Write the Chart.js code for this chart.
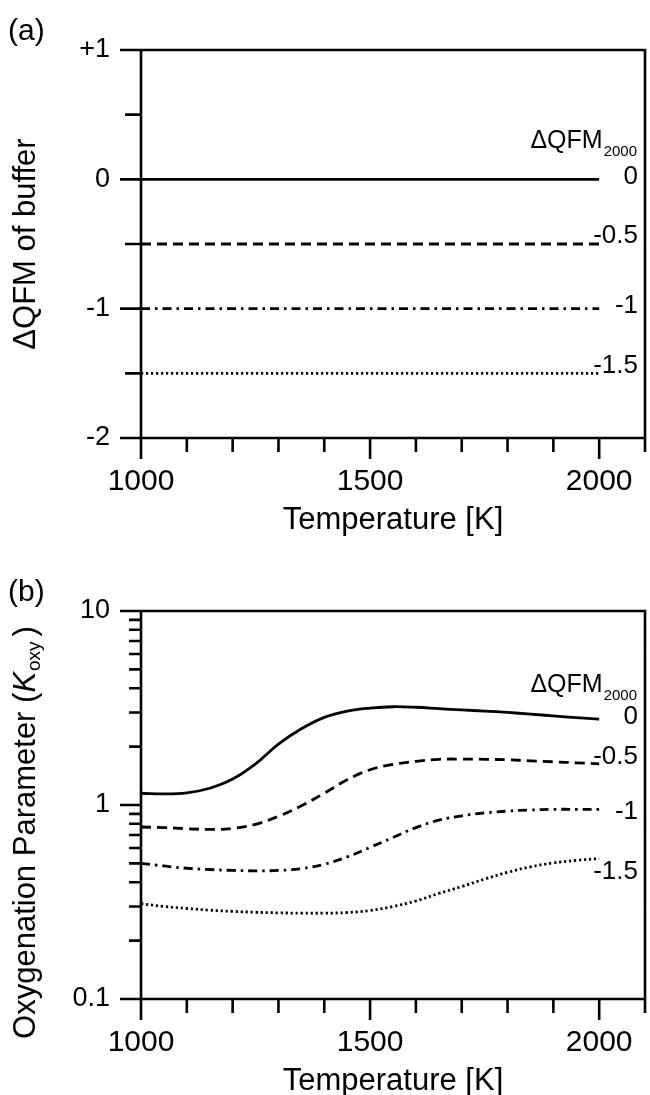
<!DOCTYPE html>
<html>
<head>
<meta charset="utf-8">
<script src="https://cdn.jsdelivr.net/npm/chart.js@4.4.0/dist/chart.umd.min.js"></script>
<style>
  html, body { margin: 0; padding: 0; background: #fff; overflow: hidden; }
  canvas { position: absolute; left: 0; }
  #chartA { top: 0; }
  #chartB { top: 561px; }
</style>
</head>
<body>
<canvas id="chartA" width="650" height="545"></canvas>
<canvas id="chartB" width="650" height="545"></canvas>
<script>
const FONT = '"Liberation Sans", Arial, Helvetica, sans-serif';

// shared temperature axis
const temps = [1000, 1050, 1100, 1150, 1200, 1250, 1300, 1350, 1400, 1450, 1500,
               1550, 1600, 1650, 1700, 1750, 1800, 1850, 1900, 1950, 2000];
const tempEnds = [1000, 2000];
const tempTicks = [1000, 1100, 1200, 1300, 1400, 1500, 1600, 1700, 1800, 1900, 2000, 2100];
const tempLabels = [1000, 1500, 2000];

// (a) buffer offsets
const bufferLevels = [0, -0.5, -1, -1.5];
const bufferTicks = [-2, -1.5, -1, -0.5, 0, 0.5, 1];
const bufferLabelTicks = [-2, -1, 0, 1];

// (b) K_oxy
const kOxy0   = [1.15, 1.14, 1.155, 1.22, 1.36, 1.63, 2.06, 2.47, 2.83, 3.05, 3.16,
                 3.21, 3.19, 3.14, 3.09, 3.05, 3.00, 2.94, 2.88, 2.82, 2.77];
const kOxy05  = [0.77, 0.765, 0.755, 0.748, 0.757, 0.795, 0.875, 0.99, 1.15, 1.35, 1.52,
                 1.62, 1.68, 1.72, 1.725, 1.72, 1.71, 1.69, 1.67, 1.65, 1.63];
const kOxy1   = [0.50, 0.485, 0.472, 0.465, 0.46, 0.458, 0.46, 0.47, 0.495, 0.54, 0.605,
                 0.68, 0.765, 0.835, 0.88, 0.91, 0.93, 0.943, 0.95, 0.95, 0.95];
const kOxy15  = [0.31, 0.30, 0.293, 0.287, 0.283, 0.28, 0.278, 0.277, 0.277, 0.279, 0.286,
                 0.30, 0.32, 0.35, 0.38, 0.415, 0.45, 0.48, 0.503, 0.518, 0.53];
const kTicks = [0.1, 0.2, 0.3, 0.4, 0.5, 0.6, 0.7, 0.8, 0.9,
                1, 2, 3, 4, 5, 6, 7, 8, 9, 10];
const kLabelTicks = [0.1, 1, 10];

const levelNames = ['0', '-0.5', '-1', '-1.5'];
const dashes = [[], [10, 6], [9, 5, 2.5, 5], [2.2, 2.8]];

Chart.defaults.font.family = FONT;
Chart.defaults.color = '#000';

// axis frame + tick marks drawn from the chart's scales
const frameTicks = {
  id: 'frameTicks',
  afterDraw(chart, args, opts) {
    const { ctx, chartArea: a, scales: { x, y } } = chart;
    ctx.save();
    ctx.strokeStyle = '#000';
    ctx.lineWidth = 2.6;
    ctx.beginPath();
    ctx.moveTo(a.left, a.top);
    ctx.lineTo(a.right, a.top);
    ctx.lineTo(a.right, a.bottom);
    ctx.lineTo(a.left, a.bottom);
    ctx.closePath();
    x.ticks.forEach(t => {
      const px = x.getPixelForValue(t.value);
      const len = tempLabels.includes(t.value) ? 21 : 14;
      ctx.moveTo(px, a.bottom);
      ctx.lineTo(px, a.bottom + len);
    });
    y.ticks.forEach(t => {
      const py = y.getPixelForValue(t.value);
      const len = opts.major.includes(t.value) ? 21 : opts.minorLen;
      ctx.moveTo(a.left - len, py);
      ctx.lineTo(a.left, py);
    });
    ctx.stroke();
    ctx.restore();
  }
};

// panel letter, ΔQFM2000 header and curve labels
const notes = {
  id: 'notes',
  afterDraw(chart, args, opts) {
    const { ctx, scales: { y } } = chart;
    ctx.save();
    ctx.fillStyle = '#000';
    ctx.textBaseline = 'middle';
    ctx.textAlign = 'left';
    ctx.font = '30px ' + FONT;
    ctx.fillText(opts.panel, 8, 32);

    // header
    ctx.textAlign = 'right';
    ctx.textBaseline = 'alphabetic';
    ctx.font = '15px ' + FONT;
    ctx.fillText('2000', 637, opts.headerY + 8);
    const subW = ctx.measureText('2000').width;
    ctx.font = '25px ' + FONT;
    ctx.fillText('ΔQFM', 637 - subW - 1, opts.headerY);

    // curve labels at the end of each line
    ctx.textBaseline = 'middle';
    ctx.font = '26px ' + FONT;
    chart.data.datasets.forEach((ds, i) => {
      const last = ds.data[ds.data.length - 1];
      const py = y.getPixelForValue(last.y) + opts.nudge[i];
      ctx.fillText(levelNames[i], 638, py);
    });

    if (opts.kTitle) {
      // rotated y title with italic K and subscript
      const a = chart.chartArea;
      ctx.translate(26.5, (a.top + a.bottom) / 2 + 28);
      ctx.rotate(-Math.PI / 2);
      ctx.textAlign = 'left';
      const big = '31px ' + FONT;
      const ital = 'italic 31px ' + FONT;
      const sub = '19px ' + FONT;
      const p1 = 'Oxygenation Parameter (';
      ctx.font = big; const w1 = ctx.measureText(p1).width;
      ctx.font = ital; const w2 = ctx.measureText('K').width;
      ctx.font = sub; const w3 = ctx.measureText('oxy').width;
      ctx.font = big; const w4 = ctx.measureText(')').width;
      const gap = 5;
      let sx = -(w1 + w2 + w3 + gap + w4) / 2;
      ctx.font = big; ctx.fillText(p1, sx, 0); sx += w1;
      ctx.font = ital; ctx.fillText('K', sx, 0); sx += w2 + 1;
      ctx.font = sub; ctx.fillText('oxy', sx, 8); sx += w3 + gap;
      ctx.font = big; ctx.fillText(')', sx, 0);
    }
    ctx.restore();
  }
};

function xAxis() {
  return {
    type: 'linear',
    min: 1000,
    max: 2100,
    afterBuildTicks: s => { s.ticks = tempTicks.map(v => ({ value: v })); },
    afterFit: s => { s.height = 107; },
    grid: { display: true, drawOnChartArea: false, drawTicks: true, tickLength: 21, color: 'rgba(0,0,0,0)' },
    border: { display: false },
    ticks: {
      autoSkip: false,
      maxRotation: 0,
      padding: 5,
      font: { size: 30 },
      callback: v => tempLabels.includes(v) ? String(v) : ''
    },
    title: { display: true, text: 'Temperature [K]', font: { size: 31 }, padding: { top: 0, bottom: 6 } }
  };
}

function baseOptions() {
  return {
    responsive: false,
    animation: false,
    devicePixelRatio: 1,
    layout: { padding: { top: 50, right: 2, bottom: 0, left: 0 } },
    plugins: { legend: { display: false }, tooltip: { enabled: false } },
    elements: { point: { radius: 0 }, line: { borderWidth: 2.8, borderColor: '#000' } }
  };
}

// (a)
const optsA = baseOptions();
optsA.scales = {
  x: xAxis(),
  y: {
    type: 'linear',
    min: -2,
    max: 1,
    afterBuildTicks: s => { s.ticks = bufferTicks.map(v => ({ value: v })); },
    afterFit: s => { s.width = 141; },
    grid: { display: true, drawOnChartArea: false, drawTicks: true, tickLength: 21, color: 'rgba(0,0,0,0)' },
    border: { display: false },
    ticks: {
      autoSkip: false,
      padding: 10,
      font: { size: 27 },
      callback: v => bufferLabelTicks.includes(v) ? (v > 0 ? '+' + v : String(v)) : ''
    },
    title: { display: true, text: 'ΔQFM of buffer', font: { size: 31 }, padding: { top: 8, bottom: 0 } }
  }
};
optsA.plugins.frameTicks = { major: bufferLabelTicks, minorLen: 16 };
optsA.plugins.notes = { panel: '(a)', headerY: 148, nudge: [-3, -8.5, -3, -7.5], kTitle: false };

new Chart(document.getElementById('chartA'), {
  type: 'line',
  data: {
    datasets: bufferLevels.map((lv, i) => ({
      label: levelNames[i],
      data: tempEnds.map(t => ({ x: t, y: lv })),
      borderDash: dashes[i],
      borderColor: '#000',
      borderWidth: 2.8
    }))
  },
  options: optsA,
  plugins: [frameTicks, notes]
});

// (b)
const kSeries = [kOxy0, kOxy05, kOxy1, kOxy15];
const optsB = baseOptions();
optsB.scales = {
  x: xAxis(),
  y: {
    type: 'logarithmic',
    min: 0.1,
    max: 10,
    afterBuildTicks: s => { s.ticks = kTicks.map(v => ({ value: v })); },
    afterFit: s => { s.width = 141; },
    grid: { display: true, drawOnChartArea: false, drawTicks: true, tickLength: 21, color: 'rgba(0,0,0,0)' },
    border: { display: false },
    ticks: {
      autoSkip: false,
      padding: 10,
      font: { size: 27 },
      callback: v => kLabelTicks.includes(v) ? String(v) : ''
    },
    title: { display: false }
  }
};
optsB.plugins.frameTicks = { major: kLabelTicks, minorLen: 12 };
optsB.plugins.notes = { panel: '(b)', headerY: 131, nudge: [-2, -7, 3, 13.5], kTitle: true };

new Chart(document.getElementById('chartB'), {
  type: 'line',
  data: {
    datasets: kSeries.map((vals, i) => ({
      label: levelNames[i],
      data: temps.map((t, j) => ({ x: t, y: vals[j] })),
      borderDash: dashes[i],
      borderColor: '#000',
      borderWidth: 2.8,
      tension: 0.4
    }))
  },
  options: optsB,
  plugins: [frameTicks, notes]
});
</script>
</body>
</html>
